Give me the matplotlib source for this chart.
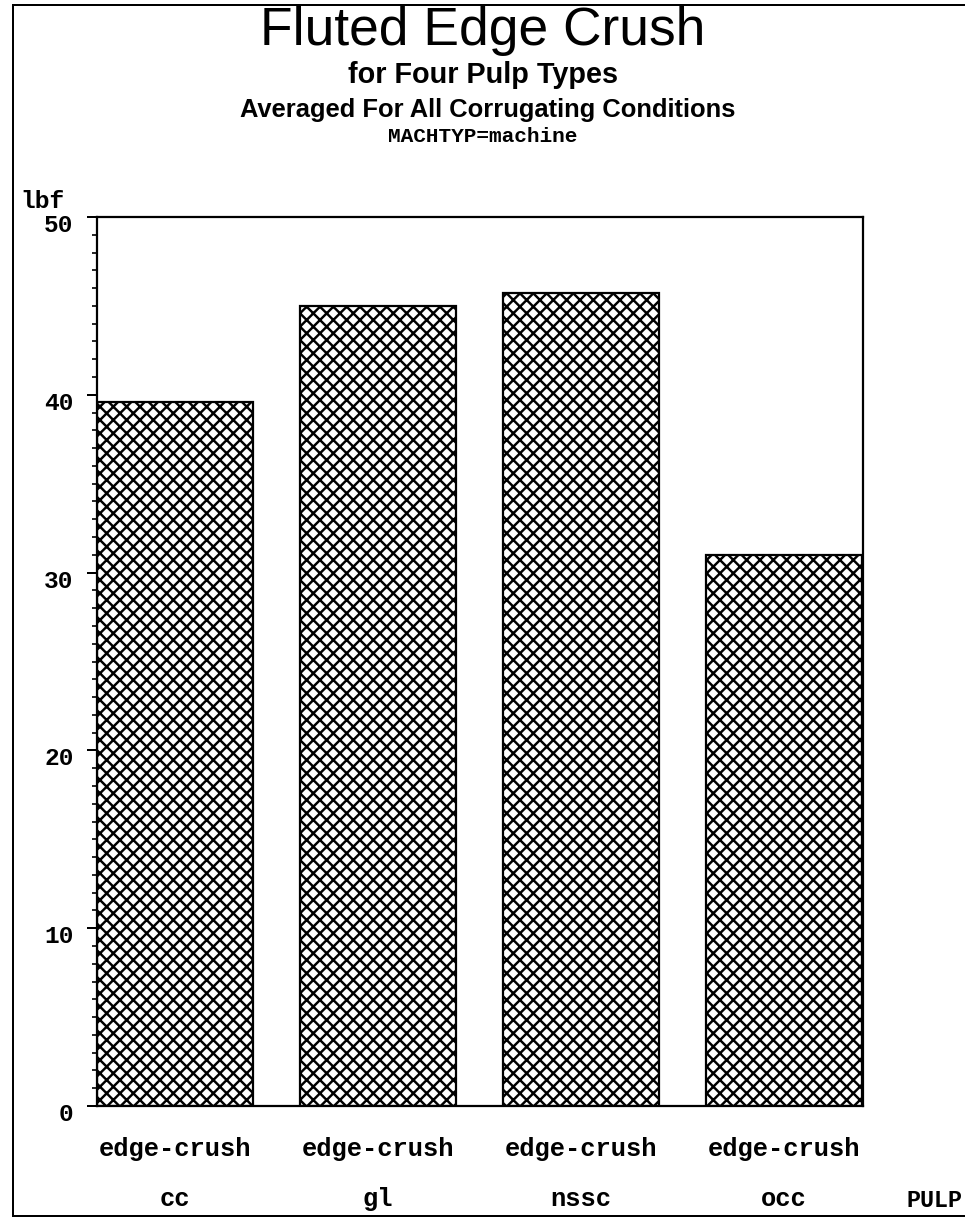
#!/usr/bin/env python3
"""Fluted edge crush by pulp type, bar chart with crosshatch fill."""

import matplotlib
matplotlib.use('Agg')
import matplotlib.pyplot as plt
import matplotlib.transforms as mtransforms
from matplotlib.lines import Line2D
import numpy as np

# data (lbf)
pulps  = ['cc', 'gl', 'nssc', 'occ']
series = 'edge-crush'
crush  = [39.6, 45.0, 45.7, 31.0]
yticks = [0, 10, 20, 30, 40, 50]

DPI = 80
W, H = 965, 1219
MONO = 'Liberation Mono'
SANS = 'Liberation Sans'

plt.rcParams['hatch.linewidth'] = 2.2

fig = plt.figure(figsize=(W / DPI, H / DPI), dpi=DPI)
ax = fig.add_axes([97 / W, 1 - 1106 / H, (863 - 97) / W, (1106 - 217) / H])

x = np.arange(len(pulps))
ax.bar(x, crush, width=0.77, facecolor='white', edgecolor='black',
       linewidth=2.0, hatch='xx', zorder=2)

ax.set_xlim(-0.383, 3.388)
ax.set_ylim(0, 50)
ax.set_yticks(yticks)
ax.set_yticks(np.arange(0, 51, 1), minor=True)
ax.set_yticklabels([str(v) for v in yticks], family=MONO,
                   fontweight='bold', fontsize=22)
ax.tick_params(axis='y', which='major', direction='out', length=9,
               width=1.8, pad=12)
ax.tick_params(axis='y', which='minor', direction='out', length=4.5,
               width=1.5)

# nudge y labels down a little, like the original
off = mtransforms.ScaledTranslation(0, -6 / DPI, fig.dpi_scale_trans)
for lab in ax.get_yticklabels():
    lab.set_transform(lab.get_transform() + off)

ax.set_xticks(x)
ax.set_xticklabels([f'{series}\n{p}' for p in pulps], family=MONO,
                   fontweight='bold', fontsize=23, linespacing=2.35)
ax.tick_params(axis='x', length=0, pad=28)

for sp in ax.spines.values():
    sp.set_linewidth(2.0)

ax.text(-0.042, 1.010, 'lbf', transform=ax.transAxes, ha='right',
        va='baseline', family=MONO, fontweight='bold', fontsize=22)

# titles
fig.text(0.5, 1 - 45 / H, 'Fluted Edge Crush', ha='center', va='baseline',
         family=SANS, fontsize=48)
fig.text(0.5, 1 - 83 / H, 'for Four Pulp Types', ha='center', va='baseline',
         family=SANS, fontweight='bold', fontsize=26)
fig.text(0.505, 1 - 117 / H, 'Averaged For All Corrugating Conditions',
         ha='center', va='baseline', family=SANS, fontweight='bold',
         fontsize=23)
fig.text(0.5, 1 - 142 / H, 'MACHTYP=machine', ha='center', va='baseline',
         family=MONO, fontweight='bold', fontsize=19)

fig.text(962 / W, 1 - 1207 / H, 'PULP', ha='right', va='baseline',
         family=MONO, fontweight='bold', fontsize=21)

# outer border (left, top, bottom visible)
x0, x1 = 13 / W, 1.0
y0, y1 = 1 - 1216 / H, 1 - 5 / H
for xs, ys in [([x0, x0], [y0, y1]), ([x0, x1], [y1, y1]), ([x0, x1], [y0, y0])]:
    fig.add_artist(Line2D(xs, ys, color='black', lw=1.8,
                          transform=fig.transFigure))

fig.savefig('out.png', dpi=DPI, facecolor='white')
